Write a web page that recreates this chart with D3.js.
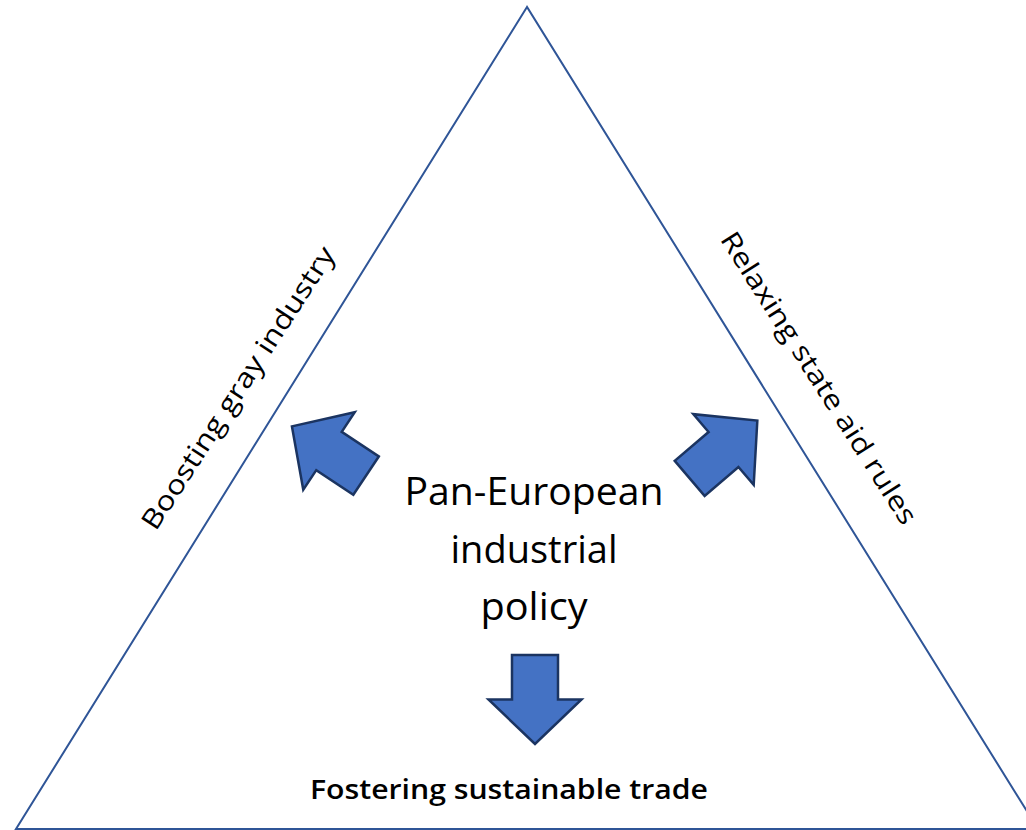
<!DOCTYPE html>
<html>
<head>
<meta charset="utf-8">
<script src="https://cdn.jsdelivr.net/npm/d3@7"></script>
<style>
  body { margin: 0; background: #fff; }
  svg { display: block; }
</style>
</head>
<body>
<div id="diagram"></div>
<script>
// Triangle diagram: three policy directions around a central label

// Text content
var centerLines = ["Pan-European", "industrial", "policy"];
var sideLabels = ["Boosting gray industry", "Relaxing state aid rules"];
var baseLabel = ["Fostering sustainable trade"];

// Layout
// =======================
var width = 1026;
var height = 830;
var font = "'Open Sans', 'Noto Sans', sans-serif";

var svg = d3.select("#diagram")
    .append("svg")
    .attr("width", width)
    .attr("height", height);

// Triangle corners (right corner runs off the page)
var apex = [527, 7];
var leftCorner = [16, 829];
var rightCorner = [1038, 829];

var line = d3.line();

svg.append("path")
    .attr("d", line([apex, leftCorner, rightCorner]) + "Z")
    .attr("fill", "none")
    .attr("stroke", "#2F5597")
    .attr("stroke-width", 2);

// Block arrow, drawn pointing down around its centre
var shaftHalf = 23;
var headHalf = 46.5;
var halfLen = 44.5;
var arrowShape = [
    [-shaftHalf, -halfLen],
    [shaftHalf, -halfLen],
    [shaftHalf, 0],
    [headHalf, 0],
    [0, halfLen],
    [-headHalf, 0],
    [-shaftHalf, 0]
];

// where each arrow sits and which way it points
var arrows = [
    { x: 329, y: 451, angle: 123.6 },
    { x: 723.5, y: 449.5, angle: -130.5 },
    { x: 535, y: 699.5, angle: 0 }
];

svg.selectAll(".arrow")
    .data(arrows)
    .enter()
    .append("path")
    .attr("class", "arrow")
    .attr("d", line(arrowShape) + "Z")
    .attr("transform", function(d) {
        return "translate(" + d.x + "," + d.y + ") rotate(" + d.angle + ")";
    })
    .attr("fill", "#4472C4")
    .attr("stroke", "#1B3461")
    .attr("stroke-width", 2.5)
    .attr("stroke-linejoin", "miter");

// Centre text
var centerWidths = [259, 167, 107];
svg.selectAll(".centerText")
    .data(centerLines)
    .enter()
    .append("text")
    .attr("class", "centerText")
    .attr("x", 534)
    .attr("y", function(d, i) { return 505 + i * 57.5; })
    .attr("text-anchor", "middle")
    .attr("font-family", font)
    .attr("font-size", 39)
    .attr("fill", "#000")
    .attr("textLength", function(d, i) { return centerWidths[i]; })
    .attr("lengthAdjust", "spacingAndGlyphs")
    .text(function(d) { return d; });

// Side labels run along the triangle edges
var sideSpots = [
    { x: 246, y: 393, angle: -57, len: 331 },
    { x: 811, y: 383, angle: 57.5, len: 341 }
];

svg.selectAll(".sideText")
    .data(sideLabels)
    .enter()
    .append("text")
    .attr("class", "sideText")
    .attr("text-anchor", "middle")
    .attr("transform", function(d, i) {
        var s = sideSpots[i];
        return "translate(" + s.x + "," + s.y + ") rotate(" + s.angle + ")";
    })
    .attr("font-family", font)
    .attr("font-size", 27)
    .attr("fill", "#000")
    .attr("textLength", function(d, i) { return sideSpots[i].len; })
    .attr("lengthAdjust", "spacingAndGlyphs")
    .text(function(d) { return d; });

// Bottom label
svg.selectAll(".baseText")
    .data(baseLabel)
    .enter()
    .append("text")
    .attr("class", "baseText")
    .attr("x", 509)
    .attr("y", 799)
    .attr("text-anchor", "middle")
    .attr("font-family", font)
    .attr("font-weight", 600)
    .attr("font-size", 27)
    .attr("fill", "#000")
    .attr("textLength", 398)
    .attr("lengthAdjust", "spacingAndGlyphs")
    .text(function(d) { return d; });
</script>
</body>
</html>
